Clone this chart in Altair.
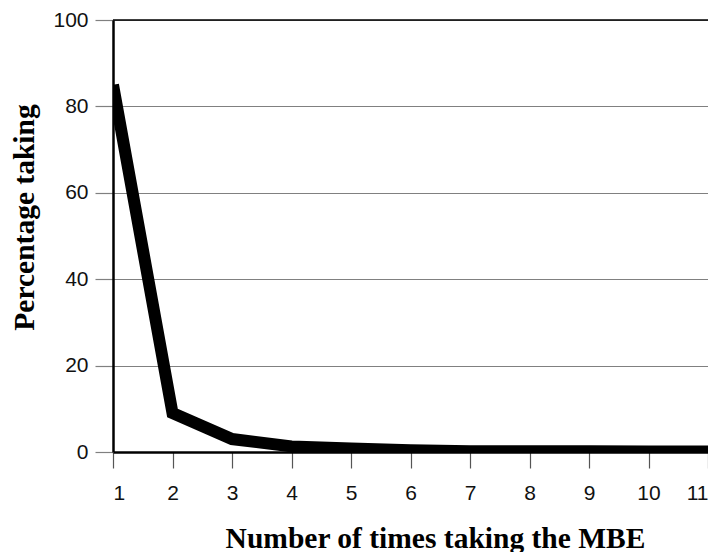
import altair as alt
import pandas as pd

times = [1, 2, 3, 4, 5, 6, 7, 8, 9, 10, 11]
pct = [85, 9, 3, 1.3, 0.8, 0.4, 0.2, 0.2, 0.15, 0.1, 0.1]

df = pd.DataFrame({"times": times, "pct": pct})

x_scale = alt.Scale(domain=[1, 11], nice=False, zero=False)
y_scale = alt.Scale(domain=[0, 100], nice=False)

line = alt.Chart(df).mark_line(color="black", strokeWidth=12, strokeJoin="miter", clip=True).encode(
    x=alt.X("times:Q", scale=x_scale,
            axis=alt.Axis(values=times, format="d", title="Number of times taking the MBE",
                          grid=False, domainColor="black", domainWidth=2.5,
                          tickColor="#555", tickSize=16, tickWidth=1.2,
                          labelFont="Liberation Sans", labelFontSize=21, labelColor="#111",
                          labelBaseline="middle", labelPadding=25,
                          titleFont="Liberation Serif", titleFontSize=29.5, titleFontWeight="bold",
                          titleColor="black", titleBaseline="middle",
                          titleX=322, titleY=86)),
    y=alt.Y("pct:Q", scale=y_scale,
            axis=alt.Axis(values=[0, 20, 40, 60, 80, 100], title="Percentage taking",
                          grid=True, gridColor="#808080", gridWidth=1.2,
                          domainColor="black", domainWidth=2.5,
                          tickColor="#808080", tickSize=18, tickWidth=1.2,
                          labelFont="Liberation Sans", labelFontSize=21, labelColor="#111",
                          labelPadding=7,
                          titleFont="Liberation Serif", titleFontSize=29.5, titleFontWeight="bold",
                          titleColor="black", titleBaseline="middle", titleAngle=270,
                          titleX=-89, titleY=197)),
)

top = alt.Chart(pd.DataFrame({"y": [100]})).mark_rule(color="black", strokeWidth=1.5).encode(
    y=alt.Y("y:Q", scale=y_scale)
)

chart = alt.layer(top, line).properties(
    width=595, height=432,
    autosize=alt.AutoSizeParams(type="none"),
    padding={"left": 105, "top": 12, "right": 0, "bottom": 100},
).configure_view(stroke=None).configure(background="white")

chart.save("out.html", embed_options={"renderer": "svg", "actions": False})
